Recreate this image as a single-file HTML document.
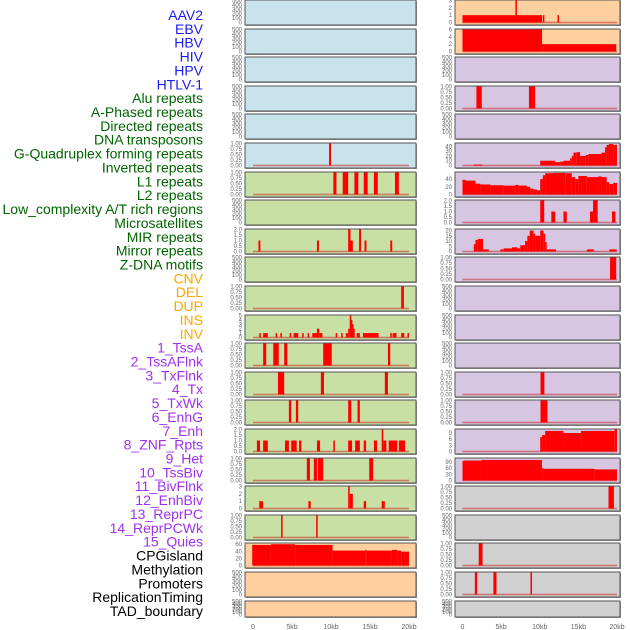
<!DOCTYPE html>
<html><head><meta charset="utf-8"><style>
html,body{margin:0;padding:0;background:#fff;width:630px;height:630px;overflow:hidden}
svg{display:block}
</style></head><body>
<svg id="chart" width="630" height="630" xmlns="http://www.w3.org/2000/svg" font-family="Liberation Sans, sans-serif"></svg>
<script>
// ---- data ----
const labelNames = ["AAV2","EBV","HBV","HIV","HPV","HTLV-1","Alu repeats","A-Phased repeats","Directed repeats","DNA transposons","G-Quadruplex forming repeats","Inverted repeats","L1 repeats","L2 repeats","Low_complexity A/T rich regions","Microsatellites","MIR repeats","Mirror repeats","Z-DNA motifs","CNV","DEL","DUP","INS","INV","1_TssA","2_TssAFlnk","3_TxFlnk","4_Tx","5_TxWk","6_EnhG","7_Enh","8_ZNF_Rpts","9_Het","10_TssBiv","11_BivFlnk","12_EnhBiv","13_ReprPC","14_ReprPCWk","15_Quies","CPGisland","Methylation","Promoters","ReplicationTiming","TAD_boundary"];
const labelGroups = ["v","v","v","v","v","v","r","r","r","r","r","r","r","r","r","r","r","r","r","s","s","s","s","s","c","c","c","c","c","c","c","c","c","c","c","c","c","c","c","o","o","o","o","o"];
const xTickLabels = ["0","5kb","10kb","15kb","20kb"];
const xTickValues = [0,5,10,15,20];
const T_E = ["0","100","200","300","400","500"];
const T_1 = ["0.00","0.25","0.50","0.75","1.00"];
const T_2 = ["0.0","0.5","1.0","1.5","2.0"];
const leftBg = ["b","b","b","b","b","b","g","g","g","g","g","g","g","g","g","g","g","g","g","p","p","p"];
const leftMax = [500,500,500,500,500,1,1,500,2,500,1,5,1,1,1,2,1,3,1,62,500,500];
const leftTicks = [T_E,T_E,T_E,T_E,T_E,T_1,T_1,T_E,T_2,T_E,T_1,["0","1","2","3","4","5"],T_1,T_1,T_1,T_2,T_1,["0","1","2","3"],T_1,["0","20","40","60"],T_E,T_E];
const leftSegs = [
 [],[],[],[],[],
 [[9.75,10.0,1]],
 [[10.3,10.7,1],[11.5,12.2,1],[13.0,13.5,1],[14.2,14.7,1],[15.5,16.0,1],[18.2,18.7,1]],
 [],
 [[0.7,0.95,1],[8.2,8.45,1],[12.2,12.5,2],[12.5,12.8,1],[13.6,13.85,2],[14.3,14.55,1],[17.6,17.85,1]],
 [],
 [[19.0,19.35,1]],
 [[0.8,1.0,1],[1.3,1.9,1],[2.9,3.1,1],[3.5,3.7,1],[4.7,4.9,1],[5.2,5.8,1],[6.3,6.5,1],[7.0,7.2,1],[7.6,8.2,1],[8.2,8.5,2],[8.5,8.9,1],[10.6,10.8,1],[11.3,11.5,1],[11.9,12.2,1],[12.2,12.4,2],[12.4,12.55,5],[12.55,12.7,4],[12.7,12.85,3],[12.85,13.0,2],[13.3,13.7,1],[14.1,16.1,1],[17.6,17.8,1],[17.9,18.4,1],[19.0,19.4,1],[19.8,20.0,1]],
 [[1.3,1.7,1],[2.6,3.3,1],[4.0,4.4,1],[9.0,10.1,1],[17.3,17.6,1]],
 [[3.2,4.0,1],[8.7,9.1,1],[16.9,17.3,1]],
 [[4.6,4.9,1],[5.5,5.8,1],[12.2,12.6,1],[13.4,13.7,1]],
 [[0.5,0.9,1],[1.3,1.9,1],[4.1,4.6,1],[4.9,5.6,1],[5.9,6.2,1],[8.2,8.6,1],[10.3,10.5,1],[12.2,12.7,1],[13.1,13.7,1],[14.2,14.5,1],[15.5,15.9,1],[16.5,16.7,2],[16.7,17.1,1],[17.4,18.5,1],[18.7,19.5,1]],
 [[6.9,7.3,1],[7.8,8.2,1],[8.3,9.0,1],[14.9,15.4,1]],
 [[0.8,1.3,1],[7.1,7.4,1],[12.2,12.4,3],[12.4,12.8,2],[14.2,14.5,1],[16.5,16.9,1]],
 [[3.6,3.8,1],[8.1,8.3,1]],
 [[-0.1,2.3,58],[2.3,5.4,60],[5.4,10.2,58],[10.2,14.4,42],[14.4,14.6,44],[14.6,17.8,42],[17.8,18.5,44],[18.5,19.0,42],[19.0,20.0,39]],
 [],[]
];
const rightBg = ["p","p","l","l","l","l","l","l","l","l","l","l","l","l","l","l","l","y","y","y","y","y"];
const rightMax = [3,6,500,1,500,46,57,2,21,1,500,500,500,1,1,10.7,107,1,500,1,1,500];
const rightTicks = [["0","1","2","3"],["0","2","4","6"],T_E,T_1,T_E,["0","10","20","30","40"],["0","20","40"],T_2,["0","5","10","15","20"],T_1,T_E,T_E,T_E,T_1,T_1,["0","3","6","9"],["0","30","60","90"],T_1,T_E,T_1,T_1,T_E];
const rightSegs = [
 [[0,10.3,1],[6.85,7.05,3],[10.4,10.6,1],[12.3,12.5,1]],
 [[0,10.3,6],[10.3,19.9,2]],
 [],
 [[1.8,2.5,1],[8.6,9.4,1]],
 [],
 [[1.46,2.54,2],[10.06,12.0,10],[12.0,12.64,7],[12.64,13.07,8],[13.07,13.93,10],[13.93,14.15,15],[14.15,14.36,20],[14.36,14.79,27],[14.79,15.22,28],[15.22,15.95,20],[15.95,16.3,22],[16.3,18.0,24],[18.0,18.45,27],[18.45,18.66,38],[18.66,18.96,43],[18.96,19.5,45],[19.5,20.0,43]],
 [[0,0.39,38],[0.39,1.68,36],[1.68,2.32,28],[2.32,3.61,26],[3.61,5.33,24],[5.33,6.84,23],[6.84,7.27,25],[7.27,8.34,23],[8.34,8.77,20],[8.77,9.2,15],[9.2,9.63,13],[9.63,10.06,11],[10.06,10.4,40],[10.4,10.7,50],[10.7,11.78,55],[11.78,13.3,56],[13.3,14.15,55],[14.15,14.6,45],[14.6,15.0,40],[15.0,16.1,48],[16.1,17.6,45],[17.6,18.0,47],[18.0,18.66,45],[18.66,19.0,32],[19.0,19.5,27],[19.5,20.0,30]],
 [[10.06,10.58,2],[11.5,12.0,1],[13.07,13.5,1],[16.5,16.9,1],[16.9,17.5,2],[19.35,19.8,1]],
 [[1.46,1.68,7],[1.68,1.98,11],[1.98,2.66,12],[2.66,3.4,2],[4.9,5.33,2],[5.33,6.4,3],[6.4,7.05,4],[7.05,7.48,3],[7.48,8.1,6],[8.1,8.4,10],[8.4,8.7,15],[8.7,9.2,20],[9.2,9.4,17],[9.4,10.06,15],[10.06,10.5,20],[10.5,10.7,17],[10.7,10.9,9],[10.9,12.1,2],[16.1,17.0,2],[19.0,19.95,2]],
 [[19.1,19.9,1]],
 [],[],[],
 [[10.1,10.6,1]],
 [[10.1,11.0,1]],
 [[10.06,10.3,7],[10.3,10.7,8],[10.7,13.07,10],[13.07,15.35,9],[15.35,19.7,10],[19.7,20.0,11]],
 [[0,0.17,95],[0.17,2.45,97],[2.45,10.28,100],[10.28,10.5,60],[10.5,17.1,57],[17.1,20.0,54]],
 [[18.9,19.6,1]],
 [],
 [[2.1,2.6,1]],
 [[1.6,1.9,1],[4.0,4.4,1],[8.8,9.0,1]],
 []
];
// ---- drawing ----
const NS="http://www.w3.org/2000/svg";
const svg=document.getElementById('chart');
const bgColors={b:"#c8e3eb",g:"#c9e0a5",p:"#ffd09f",l:"#d6c6e2",y:"#d1d1d1"};
const labelColors={v:"#1c1cf0",r:"#006400",s:"#ffa500",c:"#a030f0",o:"#000000"};
function mk(tag,attrs,parent){const e=document.createElementNS(NS,tag);for(const k in attrs)e.setAttribute(k,attrs[k]);(parent||svg).appendChild(e);return e;}
function rowTop(i){return Math.round(i*28.6);}
function rowH(i){return i===21?16:25;}
labelNames.forEach((n,i)=>{
  const t=mk('text',{x:203,y:15+i*13.86+5,'text-anchor':'end','font-size':'14',fill:labelColors[labelGroups[i]]});
  t.textContent=n;
  
  
});
function drawColumn(px,pw,x0,x1,bgs,maxs,ticks,segs,side){
  const xs=kb=>x0+(x1-x0)*kb/20;
  for(let i=0;i<22;i++){
    const top=rowTop(i),h=rowH(i),bot=top+h;
    const g=mk('g',{});
    
    
    mk('rect',{x:px+1,y:top+1,width:pw,height:h,fill:'#999'},g);
    mk('rect',{x:px,y:top,width:pw,height:h,fill:bgColors[bgs[i]],stroke:'#555','stroke-width':1},g);
    const y0=bot-2.5,yTop=top+0.5;
    const ys=v=>y0-(y0-yTop)*v/maxs[i];
    const tk=ticks[i],n=tk.length;
    tk.forEach((lab,j)=>{
      const val=parseFloat(lab);
      const ty=ys(val);
      const t=mk('text',{x:px-3,y:ty+2,'text-anchor':'end','font-size':'6',fill:'#666'},g);
      t.textContent=lab;
      
      
    });
    if(segs[i].length){
      const bl=mk('rect',{x:xs(0),y:y0-0.8,width:xs(20)-xs(0),height:1.6,fill:'rgba(200,40,40,0.55)'},g);
      
      
    }
    segs[i].forEach(s=>{
      const a=Math.max(-0.1,s[0]),b=Math.min(20,s[1]);
      const r=mk('rect',{x:xs(a),y:ys(s[2]),width:Math.max(1.5,xs(b)-xs(a)),height:y0-ys(s[2]),fill:'#ff0000'},g);
      
      
    });
  }
  xTickValues.forEach((v,j)=>{
    const t=mk('text',{x:xs(v),y:629,'text-anchor':'middle','font-size':'7',fill:'#666'});
    t.textContent=xTickLabels[j];
    
    
  });
}
drawColumn(245,171,253,409,leftBg,leftMax,leftTicks,leftSegs,'left');
drawColumn(455,165,462.5,617,rightBg,rightMax,rightTicks,rightSegs,'right');
</script>
</body></html>
